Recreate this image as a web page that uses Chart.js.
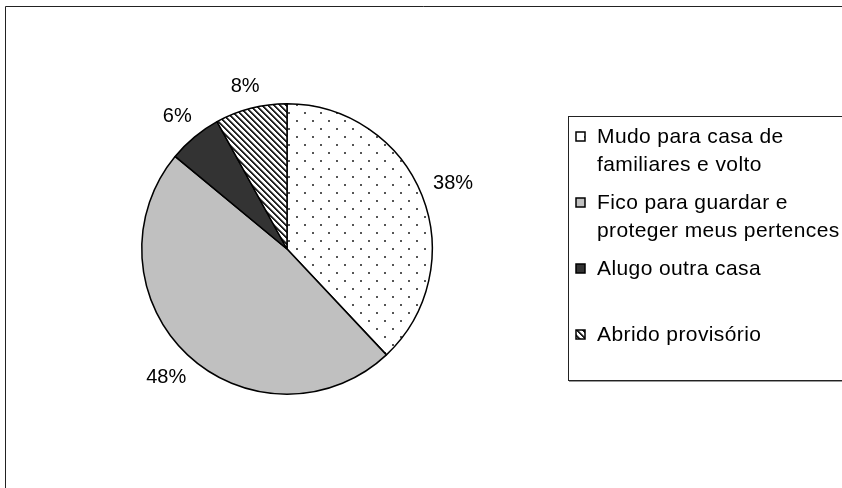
<!DOCTYPE html>
<html>
<head>
<meta charset="utf-8">
<script src="https://cdn.jsdelivr.net/npm/chart.js@4"></script>
<style>
  html, body { margin: 0; padding: 0; background: #fff; }
  #wrap { width: 842px; height: 488px; position: relative; }
</style>
</head>
<body>
<div id="wrap"><canvas id="pieChart" width="842" height="488"></canvas></div>
<script>
const categories = [
    ['Mudo para casa de', 'familiares e volto'],
    ['Fico para guardar e', 'proteger meus pertences'],
    ['Alugo outra casa'],
    ['Abrido provisório']
];
const shares = [38, 48, 6, 8];
const shareLabels = ['38%', '48%', '6%', '8%'];

const FONT = '"Liberation Sans", Arial, sans-serif';

// fill patterns, like the old office chart fills
function dotPattern() {
    const c = document.createElement('canvas');
    c.width = 16; c.height = 16;
    const g = c.getContext('2d');
    g.fillStyle = '#fff';
    g.fillRect(0, 0, 16, 16);
    g.fillStyle = '#555';
    g.fillRect(0, 0, 2, 2);
    g.fillRect(8, 8, 2, 2);
    return g.createPattern(c, 'repeat');
}

function hatchPattern() {
    const c = document.createElement('canvas');
    c.width = 6; c.height = 6;
    const g = c.getContext('2d');
    g.fillStyle = '#fff';
    g.fillRect(0, 0, 6, 6);
    for (let y = 0; y < 6; y++) {
        for (let x = 0; x < 6; x++) {
            const k = ((x - y) % 6 + 6) % 6;
            if (k === 0 || k === 1) { g.fillStyle = '#222'; g.fillRect(x, y, 1, 1); }
            else if (k === 2) { g.fillStyle = '#888'; g.fillRect(x, y, 1, 1); }
        }
    }
    return g.createPattern(c, 'repeat');
}

const fills = [dotPattern(), '#c0c0c0', '#333333', hatchPattern()];

// frame of the chart area
const framePlugin = {
    id: 'frame',
    beforeDraw(chart) {
        const ctx = chart.ctx;
        ctx.save();
        ctx.fillStyle = '#fff';
        ctx.fillRect(0, 0, chart.width, chart.height);
        ctx.strokeStyle = '#222';
        ctx.lineWidth = 1;
        ctx.beginPath();
        ctx.moveTo(5.5, chart.height);
        ctx.lineTo(5.5, 6.5);
        ctx.lineTo(chart.width, 6.5);
        ctx.stroke();
        ctx.restore();
    }
};

// percent labels outside the slices, text box kept a fixed gap off the rim
const sliceLabelPlugin = {
    id: 'sliceLabels',
    afterDatasetsDraw(chart) {
        const ctx = chart.ctx;
        const arcs = chart.getDatasetMeta(0).data;
        ctx.save();
        ctx.font = '20px ' + FONT;
        ctx.fillStyle = '#000';
        ctx.textAlign = 'center';
        ctx.textBaseline = 'middle';
        arcs.forEach((arc, i) => {
            const mid = (arc.startAngle + arc.endAngle) / 2;
            const cx = Math.cos(mid), cy = Math.sin(mid);
            const w = ctx.measureText(shareLabels[i]).width;
            const d = arc.outerRadius + 12 + Math.abs(cx) * w / 2 + Math.abs(cy) * 7.5;
            ctx.fillText(shareLabels[i], arc.x + cx * d, arc.y + cy * d);
        });
        ctx.restore();
    }
};

const legendPlugin = {
    id: 'boxLegend',
    afterDraw(chart) {
        const ctx = chart.ctx;
        const left = 568, top = 116, bottom = 380;
        ctx.save();
        ctx.strokeStyle = '#222';
        ctx.lineWidth = 1;
        ctx.strokeRect(left + 0.5, top + 0.5, chart.width, bottom - top);
        ctx.strokeStyle = '#999';
        ctx.beginPath();
        ctx.moveTo(left + 1, bottom + 1.5);
        ctx.lineTo(chart.width, bottom + 1.5);
        ctx.stroke();

        ctx.font = '21px ' + FONT;
        ctx.letterSpacing = '0.4px';
        ctx.textAlign = 'left';
        ctx.textBaseline = 'middle';
        const slot = 66;
        categories.forEach((lines, i) => {
            const y0 = 137 + i * slot;
            ctx.fillStyle = fills[i];
            ctx.fillRect(576, y0 - 5, 9, 9);
            ctx.strokeStyle = '#000';
            ctx.lineWidth = 1.5;
            ctx.strokeRect(576, y0 - 5, 9, 9);
            ctx.fillStyle = '#000';
            lines.forEach((t, j) => ctx.fillText(t, 597, y0 + j * 28));
        });
        ctx.restore();
    }
};

new Chart(document.getElementById('pieChart'), {
    type: 'pie',
    data: {
        labels: categories.map(l => l.join(' ')),
        datasets: [{
            data: shares,
            backgroundColor: fills,
            borderColor: '#000',
            borderWidth: 1.5
        }]
    },
    options: {
        responsive: false,
        animation: false,
        layout: { padding: { left: 141, right: 409, top: 103, bottom: 93 } },
        plugins: {
            legend: { display: false },
            tooltip: { enabled: false }
        }
    },
    plugins: [framePlugin, sliceLabelPlugin, legendPlugin]
});
</script>
</body>
</html>
